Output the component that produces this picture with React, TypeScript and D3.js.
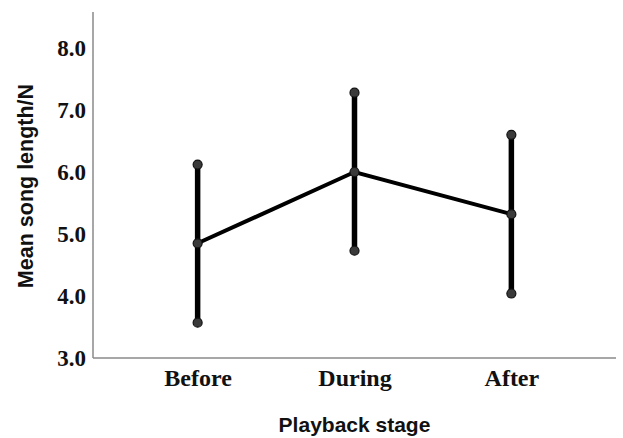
import React, { useEffect, useRef } from "react";
import * as d3 from "d3";

const stages = ["Before", "During", "After"];
const means = [4.85, 6.0, 5.32];
const upper = [6.12, 7.28, 6.6];
const lower = [3.57, 4.73, 4.04];
const yTicks = [3, 4, 5, 6, 7, 8];

const App = () => {
  const svgRef = useRef<SVGSVGElement>(null);

  useEffect(() => {
    const w = 623;
    const h = 438;
    const left = 93;
    const right = 616;
    const top = 12;
    const bottom = 358;

    const svg = d3.select(svgRef.current).attr("width", w).attr("height", h);
    svg.selectAll("*").remove();

    const x = d3.scalePoint().domain(stages).range([left, right]).padding(0.667);
    const y = d3.scaleLinear().domain([3, 8]).range([bottom, 48]);

    // axes lines
    svg
      .append("line")
      .attr("x1", left)
      .attr("x2", left)
      .attr("y1", top)
      .attr("y2", bottom)
      .attr("stroke", "#8a8a8a")
      .attr("stroke-width", 1.5);
    svg
      .append("line")
      .attr("x1", left)
      .attr("x2", right)
      .attr("y1", bottom)
      .attr("y2", bottom)
      .attr("stroke", "#8a8a8a")
      .attr("stroke-width", 1.5);

    // y tick labels
    const yAxis = d3
      .axisLeft(y)
      .tickValues(yTicks)
      .tickSize(0)
      .tickPadding(7)
      .tickFormat((d) => d3.format(".1f")(d as number));
    const gy = svg.append("g").attr("transform", `translate(${left},0)`).call(yAxis);
    gy.select(".domain").remove();
    gy.selectAll(".tick text")
      .attr("font-family", "'Liberation Serif', 'Times New Roman', serif")
      .attr("font-weight", "bold")
      .attr("font-size", "23px")
      .attr("fill", "#111");

    // x tick labels
    const xAxis = d3.axisBottom(x).tickSize(0).tickPadding(11);
    const gx = svg.append("g").attr("transform", `translate(0,${bottom})`).call(xAxis);
    gx.select(".domain").remove();
    gx.selectAll(".tick text")
      .attr("font-family", "'Liberation Serif', 'Times New Roman', serif")
      .attr("font-weight", "bold")
      .attr("font-size", "24px")
      .attr("fill", "#111");

    // axis titles
    svg
      .append("text")
      .attr("x", (left + right) / 2)
      .attr("y", 432)
      .attr("text-anchor", "middle")
      .attr("font-family", "'Liberation Sans', Arial, sans-serif")
      .attr("font-weight", "bold")
      .attr("font-size", "21px")
      .attr("fill", "#111")
      .text("Playback stage");
    svg
      .append("text")
      .attr("transform", `translate(33,186) rotate(-90)`)
      .attr("text-anchor", "middle")
      .attr("font-family", "'Liberation Sans', Arial, sans-serif")
      .attr("font-weight", "bold")
      .attr("font-size", "21.5px")
      .attr("fill", "#111")
      .text("Mean song length/N");

    // error bars
    svg
      .append("g")
      .selectAll("line")
      .data(stages)
      .join("line")
      .attr("x1", (d) => x(d)!)
      .attr("x2", (d) => x(d)!)
      .attr("y1", (d, i) => y(upper[i]))
      .attr("y2", (d, i) => y(lower[i]))
      .attr("stroke", "#000")
      .attr("stroke-width", 5.5);

    // mean line
    const line = d3
      .line<string>()
      .x((d) => x(d)!)
      .y((d, i) => y(means[i]));
    svg
      .append("path")
      .attr("d", line(stages))
      .attr("fill", "none")
      .attr("stroke", "#000")
      .attr("stroke-width", 4);

    // points
    const pts: { s: string; v: number }[] = [];
    stages.forEach((s, i) => {
      pts.push({ s, v: upper[i] }, { s, v: means[i] }, { s, v: lower[i] });
    });
    svg
      .append("g")
      .selectAll("circle")
      .data(pts)
      .join("circle")
      .attr("cx", (d) => x(d.s)!)
      .attr("cy", (d) => y(d.v))
      .attr("r", 4.5)
      .attr("fill", "#3a3a3a")
      .attr("stroke", "#111")
      .attr("stroke-width", 1.2);
  }, []);

  return (
    <div style={{ position: "absolute", left: 0, top: 0, background: "#fff" }}>
      <svg ref={svgRef} style={{ display: "block" }}></svg>
    </div>
  );
};

export default App;
